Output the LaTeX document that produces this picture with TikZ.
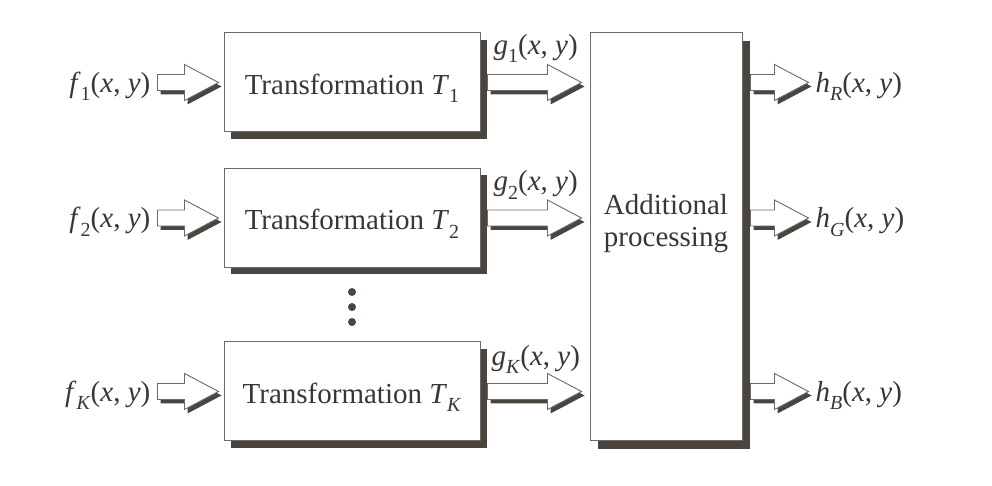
\documentclass[tikz,border=0pt]{standalone}
\usepackage{fontspec}
\setmainfont{Liberation Serif}
\newfontfamily\tms{Liberation Serif}
\usetikzlibrary{shadows,calc}
\definecolor{ink}{HTML}{3A3632}
\definecolor{shadowc}{HTML}{4A453F}
\definecolor{edge}{HTML}{6A6A6A}
\newcommand\sbs[1]{\raisebox{-0.28em}{\fontsize{20}{20}\selectfont #1}}
\newcommand\fxy[2]{\textit{#1}\sbs{#2}(\textit{x}, \textit{y})}
\newcommand\barrow[2]{%
  \fill[shadowc] let \p1=#1, \p2=#2 in
    (\x1+3pt,\y1+8pt-4pt) -- (\x2-34pt+3pt,\y1+8pt-4pt) -- (\x2-34pt+3pt,\y1+18pt-4pt)
    -- (\x2+3pt,\y1-4pt) -- (\x2-34pt+3pt,\y1-18pt-4pt) -- (\x2-34pt+3pt,\y1-8pt-4pt)
    -- (\x1+3pt,\y1-8pt-4pt) -- cycle;
  \draw[arrowbody] let \p1=#1, \p2=#2 in
    (\x1,\y1+8pt) -- (\x2-34pt,\y1+8pt) -- (\x2-34pt,\y1+18pt)
    -- (\x2,\y1) -- (\x2-34pt,\y1-18pt) -- (\x2-34pt,\y1-8pt)
    -- (\x1,\y1-8pt) -- cycle;
}
\begin{document}
\begin{tikzpicture}[x=1pt,y=1pt,
  every node/.style={text=ink, font=\tms\fontsize{29}{33}\selectfont},
  tbox/.style={draw=edge, line width=1pt, fill=white, minimum width=256pt,
    minimum height=99pt, inner sep=0pt, text height=26pt, text depth=2pt,
    drop shadow={shadow xshift=7pt, shadow yshift=-7pt, opacity=1, fill=shadowc}},
  pbox/.style={draw=edge, line width=1pt, fill=white, minimum width=152pt,
    minimum height=408pt, inner sep=0pt,
    drop shadow={shadow xshift=8pt, shadow yshift=-8pt, opacity=1, fill=shadowc}},
  arrowbody/.style={draw=edge, line width=0.9pt, fill=white, line join=miter},
  lbl/.style={inner sep=0pt},
  dot/.style={circle, fill=shadowc, inner sep=0pt, minimum size=8pt}]
\path[use as bounding box] (0,0) rectangle (992,486);

% transformation boxes
\node[tbox] (t1) at (352,403.5) {Transformation \textit{T}\sbs{1}};
\node[tbox] (t2) at (352,268) {Transformation \textit{T}\sbs{2}};
\node[tbox] (tk) at (352,94.5) {Transformation \textit{T}\sbs{\textit{K}}};

% additional processing box
\node[pbox] (ap) at (666,249) {};
\node[align=center, font=\tms\fontsize{29}{32}\selectfont, text=ink] (aptext) at (666,262)
  {Additional\\processing};

% dots
\node[dot] (d1) at (352,194) {};
\node[dot] (d2) at (352,179) {};
\node[dot] (d3) at (352,164) {};

% input labels
\node[lbl, anchor=base east] (f1) at ($(t1.west)+(-73pt,-10pt)$) {\fxy{f}{1}};
\node[lbl, anchor=base east] (f2) at ($(t2.west)+(-73pt,-10pt)$) {\fxy{f}{2}};
\node[lbl, anchor=base east] (fk) at ($(tk.west)+(-73pt,-10pt)$) {\fxy{f}{\textit{K}}};

% intermediate labels
\node[lbl, anchor=base west] (g1) at ($(t1.east)+(13pt,28pt)$) {\fxy{g}{1}};
\node[lbl, anchor=base west] (g2) at ($(t2.east)+(13pt,27pt)$) {\fxy{g}{2}};
\node[lbl, anchor=base west] (gk) at ($(tk.east)+(11pt,26pt)$) {\fxy{g}{\textit{K}}};

% output labels
\node[lbl, anchor=base west] (hr) at ($(ap.east |- t1)+(73pt,-10pt)$) {\fxy{h}{\textit{R}}};
\node[lbl, anchor=base west] (hg) at ($(ap.east |- t2)+(73pt,-10pt)$) {\fxy{h}{\textit{G}}};
\node[lbl, anchor=base west] (hb) at ($(ap.east |- tk)+(73pt,-10pt)$) {\fxy{h}{\textit{B}}};

% input arrows
\barrow{($(f1.east |- t1)+(7pt,0)$)}{($(t1.west)+(-5pt,0)$)}
\barrow{($(f2.east |- t2)+(7pt,0)$)}{($(t2.west)+(-5pt,0)$)}
\barrow{($(fk.east |- tk)+(7pt,0)$)}{($(tk.west)+(-5pt,0)$)}

% intermediate arrows
\barrow{($(t1.east)+(7pt,0)$)}{($(ap.west |- t1)+(-8pt,0)$)}
\barrow{($(t2.east)+(7pt,0)$)}{($(ap.west |- t2)+(-8pt,0)$)}
\barrow{($(tk.east)+(7pt,0)$)}{($(ap.west |- tk)+(-8pt,0)$)}

% output arrows
\barrow{($(ap.east |- t1)+(8pt,0)$)}{($(hr.west |- t1)+(-7pt,0)$)}
\barrow{($(ap.east |- t2)+(8pt,0)$)}{($(hg.west |- t2)+(-7pt,0)$)}
\barrow{($(ap.east |- tk)+(8pt,0)$)}{($(hb.west |- tk)+(-7pt,0)$)}
\end{tikzpicture}
\end{document}
